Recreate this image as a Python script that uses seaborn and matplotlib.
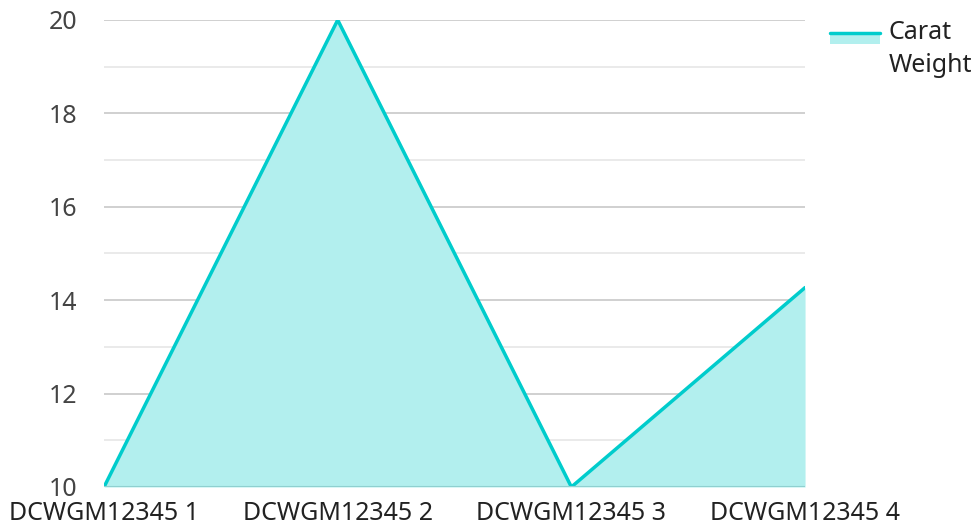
"""Area line chart of carat weight per item."""

import matplotlib.pyplot as plt
import numpy as np
import pandas as pd
import seaborn as sns
from matplotlib.lines import Line2D
from matplotlib.patches import Rectangle

ITEMS = ["DCWGM12345 1", "DCWGM12345 2", "DCWGM12345 3", "DCWGM12345 4"]
CARAT_WEIGHT = [10, 20, 10, 14.27]
Y_TICKS = [10, 12, 14, 16, 18, 20]

LINE_COLOR = "#00cccc"
FILL_COLOR = "#b2efee"
FONT_SIZE = 18


def main() -> None:
    sns.set_theme(style="white")
    plt.rcParams["font.family"] = ["Noto Sans", "DejaVu Sans"]

    df = pd.DataFrame({"pos": np.arange(len(ITEMS)), "weight": CARAT_WEIGHT})

    fig = plt.figure(figsize=(9.75, 5.29), dpi=100)
    ax = fig.add_axes([0.1067, 0.0794, 0.719, 0.8828])

    ax.fill_between(df["pos"], Y_TICKS[0], df["weight"], color=FILL_COLOR, linewidth=0, zorder=2)
    sns.lineplot(data=df, x="pos", y="weight", ax=ax, color=LINE_COLOR, linewidth=2.5, zorder=3)

    ax.set_xlim(0, len(ITEMS) - 1)
    ax.set_ylim(Y_TICKS[0], Y_TICKS[-1])
    ax.set_xticks(df["pos"])
    ax.set_xticklabels(ITEMS, fontsize=FONT_SIZE, color="#222222")
    ax.set_yticks(Y_TICKS)
    ax.set_yticklabels([str(t) for t in Y_TICKS], fontsize=FONT_SIZE, color="#444444")
    ax.set_yticks(np.arange(11, 20, 2), minor=True)
    ax.grid(True, axis="y", which="major", color="#c8c8c8", linewidth=1.2, zorder=1)
    ax.grid(True, axis="y", which="minor", color="#e6e6e6", linewidth=1.2, zorder=1)
    ax.set_axisbelow(True)
    ax.tick_params(axis="both", which="both", length=0)
    ax.tick_params(axis="y", pad=19)
    ax.tick_params(axis="x", pad=10)
    ax.set_xlabel("")
    ax.set_ylabel("")
    for spine in ax.spines.values():
        spine.set_visible(False)
    ax.axhline(Y_TICKS[0], color="#8fd0d0", linewidth=1.5, zorder=4)

    # legend swatch: fill box with the line on top
    fig.add_artist(Rectangle((830 / 975, 1 - 44 / 529), 50 / 975, 12 / 529,
                             transform=fig.transFigure, facecolor=FILL_COLOR, edgecolor="none"))
    fig.add_artist(Line2D([830 / 975, 880 / 975], [1 - 33 / 529, 1 - 33 / 529],
                          transform=fig.transFigure, color=LINE_COLOR, linewidth=2.5))
    fig.text(889 / 975, 1 - 49 / 529, "Carat\nWeight", fontsize=FONT_SIZE, color="#222222",
             va="center", ha="left", linespacing=1.42, transform=fig.transFigure)

    fig.savefig("out.png", dpi=100)
    plt.close(fig)


if __name__ == "__main__":
    main()
